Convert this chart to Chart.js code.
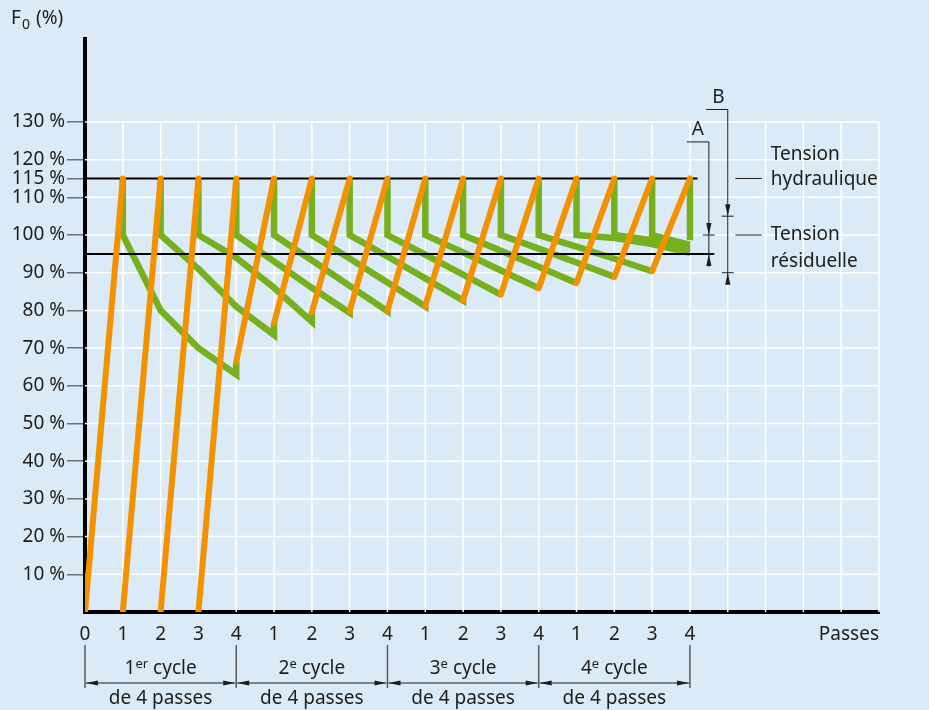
<!DOCTYPE html>
<html>
<head>
<meta charset="utf-8">
<script src="https://cdn.jsdelivr.net/npm/chart.js@4.4.1/dist/chart.umd.min.js"></script>
<style>
  html, body { margin: 0; padding: 0; background: #dbeaf7; }
  #wrap { width: 929px; height: 710px; }
</style>
</head>
<body>
<div id="wrap"><canvas id="chart" width="929" height="710"></canvas></div>
<script>
// x tick labels (pass number inside each cycle)
const passLabels = ["0", "1", "2", "3", "4", "1", "2", "3", "4", "1", "2", "3", "4", "1", "2", "3", "4"];
const yTickValues = [10, 20, 30, 40, 50, 60, 70, 80, 90, 100, 110, 115, 120, 130];
const hydraulicLevel = 115;
const residualLevel = 95;

// value at which each pass starts pulling (orange), passes 1..16
const orangeStart = [0, 0, 0, 0, 66.4, 76.6, 79.5, 79.8, 79.9, 81.2, 82.7, 84.2, 85.9, 87.3, 88.9, 90.4];

// tension left in the bolt after each pass (green), read at the following passes
const relax01 = [100, 80, 70, 63];
const relax02 = [100, 91, 81, 73.5];
const relax03 = [100, 94, 86, 77];
const relax04 = [100, 93, 86, 79.4];
const relax05 = [100, 93.3, 86.5, 79.8];
const relax06 = [100, 93.8, 87.4, 81.1];
const relax07 = [100, 94.3, 88.5, 82.6];
const relax08 = [100, 94.8, 89.5, 84.2];
const relax09 = [100, 95.4, 90.6, 85.9];
const relax10 = [100, 95.8, 91.6, 87.3];
const relax11 = [100, 96.4, 92.7, 88.9];
const relax12 = [100, 96.9, 93.7, 90.4];
const relax13 = [100, 99.2, 97.6, 95.3];
const relax14 = [100, 98.6, 96.4];
const relax15 = [100, 97.4];
const relax16 = [98.6];
const relaxCurves = [relax01, relax02, relax03, relax04, relax05, relax06, relax07, relax08,
                     relax09, relax10, relax11, relax12, relax13, relax14, relax15, relax16];

const cycleNumbers = ["1", "2", "3", "4"];
const cycleSup = ["er", "e", "e", "e"];
const cycleBounds = [0, 4, 8, 12, 16];

const GREEN = "#76b01e";
const ORANGE = "#f39200";
const TEXT = "#1d1d1b";
const FONT = '"Noto Sans", sans-serif';

Chart.defaults.font.family = FONT;
Chart.defaults.color = TEXT;

const datasets = [];

orangeStart.forEach((v, i) => {
  datasets.push({
    data: [{ x: i, y: v }, { x: i + 1, y: hydraulicLevel }],
    borderColor: ORANGE,
    borderWidth: 6,
    borderCapStyle: "round",
    pointRadius: 0,
    order: 0
  });
});

[hydraulicLevel, residualLevel].forEach((lvl, i) => {
  datasets.push({
    data: [{ x: 0, y: lvl }, { x: i === 0 ? 16.2 : 16.63, y: lvl }],
    borderColor: "#000",
    borderWidth: 2,
    pointRadius: 0,
    order: 1
  });
});

relaxCurves.forEach((vals, i) => {
  const p = i + 1;
  const pts = [{ x: p, y: hydraulicLevel }];
  vals.forEach((v, k) => pts.push({ x: p + k, y: v }));
  if (i + 4 < orangeStart.length) pts.push({ x: p + 3, y: orangeStart[i + 4] });
  datasets.push({
    data: pts,
    borderColor: GREEN,
    borderWidth: 6.5,
    borderJoinStyle: "miter",
    pointRadius: 0,
    order: 2
  });
});

function arrowHead(ctx, x, y, dx, dy) {
  // tip at (x,y), pointing along (dx,dy)
  const len = 12, half = 2.6;
  ctx.beginPath();
  ctx.moveTo(x, y);
  ctx.lineTo(x - dx * len - dy * half, y - dy * len + dx * half);
  ctx.lineTo(x - dx * len + dy * half, y - dy * len - dx * half);
  ctx.closePath();
  ctx.fill();
}

const gridPlugin = {
  id: "grid",
  beforeDatasetsDraw(chart) {
    const { ctx, scales: { x, y } } = chart;
    ctx.save();
    ctx.strokeStyle = "#ffffff";
    ctx.lineWidth = 1.5;
    ctx.beginPath();
    for (let i = 1; i <= 21; i++) {
      const px = x.getPixelForValue(i);
      ctx.moveTo(px, y.getPixelForValue(0));
      ctx.lineTo(px, y.getPixelForValue(130));
    }
    for (let v = 10; v <= 130; v += 10) {
      const py = y.getPixelForValue(v);
      ctx.moveTo(x.getPixelForValue(0), py);
      ctx.lineTo(x.getPixelForValue(21), py);
    }
    ctx.stroke();
    ctx.restore();
  }
};

const notesPlugin = {
  id: "notes",
  afterDraw(chart) {
    const { ctx, scales: { x, y } } = chart;
    const X = v => x.getPixelForValue(v);
    const Y = v => y.getPixelForValue(v);
    ctx.save();
    ctx.fillStyle = TEXT;
    ctx.strokeStyle = TEXT;
    ctx.textBaseline = "middle";

    // axis title F0 (%)
    ctx.font = "19px " + FONT;
    ctx.textAlign = "left";
    ctx.fillText("F", 11, 19);
    ctx.font = "14px " + FONT;
    ctx.fillText("0", 22, 25);
    ctx.font = "19px " + FONT;
    ctx.fillText("(%)", 36, 19);

    // x title
    ctx.textAlign = "right";
    ctx.fillText("Passes", 879, 635);

    // A dimension
    ctx.lineWidth = 1;
    ctx.beginPath();
    ctx.moveTo(X(15.92), Y(124.7)); ctx.lineTo(X(16.5), Y(124.7));
    ctx.lineTo(X(16.5), Y(91.6));
    ctx.moveTo(X(16.5) - 6, Y(100)); ctx.lineTo(X(16.5) + 6, Y(100));
    ctx.moveTo(X(16.5) - 6, Y(residualLevel)); ctx.lineTo(X(16.5) + 6, Y(residualLevel));
    ctx.stroke();
    arrowHead(ctx, X(16.5), Y(100), 0, 1);
    arrowHead(ctx, X(16.5), Y(residualLevel), 0, -1);
    ctx.textAlign = "center";
    ctx.fillText("A", X(16.21), Y(128));

    // B dimension
    ctx.beginPath();
    ctx.moveTo(X(16.43), Y(133.3)); ctx.lineTo(X(17.0), Y(133.3));
    ctx.lineTo(X(17.0), Y(87.3));
    ctx.moveTo(X(17.0) - 6, Y(105)); ctx.lineTo(X(17.0) + 6, Y(105));
    ctx.moveTo(X(17.0) - 6, Y(90)); ctx.lineTo(X(17.0) + 6, Y(90));
    ctx.stroke();
    arrowHead(ctx, X(17.0), Y(105), 0, 1);
    arrowHead(ctx, X(17.0), Y(90), 0, -1);
    ctx.fillText("B", X(16.75), Y(136.5));

    // side labels
    ctx.beginPath();
    ctx.moveTo(X(17.2), Y(hydraulicLevel)); ctx.lineTo(X(17.9), Y(hydraulicLevel));
    ctx.moveTo(X(17.2), Y(100)); ctx.lineTo(X(17.9), Y(100));
    ctx.stroke();
    ctx.textAlign = "left";
    const lx = X(18.14);
    ctx.fillText("Tension", lx, Y(hydraulicLevel) - 24);
    ctx.fillText("hydraulique", lx, Y(hydraulicLevel) + 1);
    ctx.fillText("Tension", lx, Y(100));
    ctx.fillText("résiduelle", lx, Y(100) + 26.5);

    // cycle brackets under the axis
    ctx.strokeStyle = "#5a5a5a";
    ctx.lineWidth = 1.5;
    ctx.beginPath();
    cycleBounds.forEach(b => {
      ctx.moveTo(X(b), 645); ctx.lineTo(X(b), 688);
    });
    ctx.stroke();
    ctx.strokeStyle = TEXT;
    ctx.lineWidth = 1;
    for (let c = 0; c < 4; c++) {
      const x0 = X(cycleBounds[c]) + 1, x1 = X(cycleBounds[c + 1]) - 1;
      ctx.beginPath();
      ctx.moveTo(x0, 683); ctx.lineTo(x1, 683);
      ctx.stroke();
      arrowHead(ctx, x0, 683, -1, 0);
      arrowHead(ctx, x1, 683, 1, 0);
      const cx = (x0 + x1) / 2;
      ctx.font = "19px " + FONT;
      const w1 = ctx.measureText(cycleNumbers[c]).width;
      const w3 = ctx.measureText(" cycle").width;
      ctx.font = "13px " + FONT;
      const w2 = ctx.measureText(cycleSup[c]).width;
      let sx = cx - (w1 + w2 + w3) / 2;
      ctx.textAlign = "left";
      ctx.font = "19px " + FONT;
      ctx.fillText(cycleNumbers[c], sx, 669);
      ctx.font = "13px " + FONT;
      ctx.fillText(cycleSup[c], sx + w1, 664);
      ctx.font = "19px " + FONT;
      ctx.fillText(" cycle", sx + w1 + w2, 669);
      ctx.textAlign = "center";
      ctx.fillText("de 4 passes", cx, 699);
    }
    ctx.restore();
  }
};

new Chart(document.getElementById("chart"), {
  type: "line",
  data: { datasets },
  options: {
    responsive: false,
    devicePixelRatio: 1,
    animation: false,
    layout: { padding: { top: 39, right: 50, left: 0, bottom: 0 } },
    plugins: { legend: { display: false }, tooltip: { enabled: false } },
    elements: { line: { tension: 0 } },
    scales: {
      x: {
        type: "linear",
        min: 0,
        max: 21,
        afterFit: s => { s.height = 98; },
        afterBuildTicks: s => { s.ticks = passLabels.map((_, i) => ({ value: i })); },
        ticks: {
          autoSkip: false,
          maxRotation: 0,
          padding: 11,
          color: TEXT,
          font: { size: 19 },
          callback: v => passLabels[v] ?? ""
        },
        grid: { drawOnChartArea: false, drawTicks: false },
        border: { color: "#000", width: 4 }
      },
      y: {
        type: "linear",
        min: 0,
        max: 152,
        afterFit: s => { s.width = 85; },
        afterBuildTicks: s => { s.ticks = yTickValues.map(v => ({ value: v })); },
        ticks: {
          autoSkip: false,
          padding: 2,
          color: TEXT,
          font: { size: 19 },
          callback: v => v + " %"
        },
        grid: { drawOnChartArea: false, drawTicks: true, tickLength: 18, color: "#6f6f6f", lineWidth: 1.5 },
        border: { color: "#000", width: 4 }
      }
    }
  },
  plugins: [gridPlugin, notesPlugin]
});
</script>
</body>
</html>
